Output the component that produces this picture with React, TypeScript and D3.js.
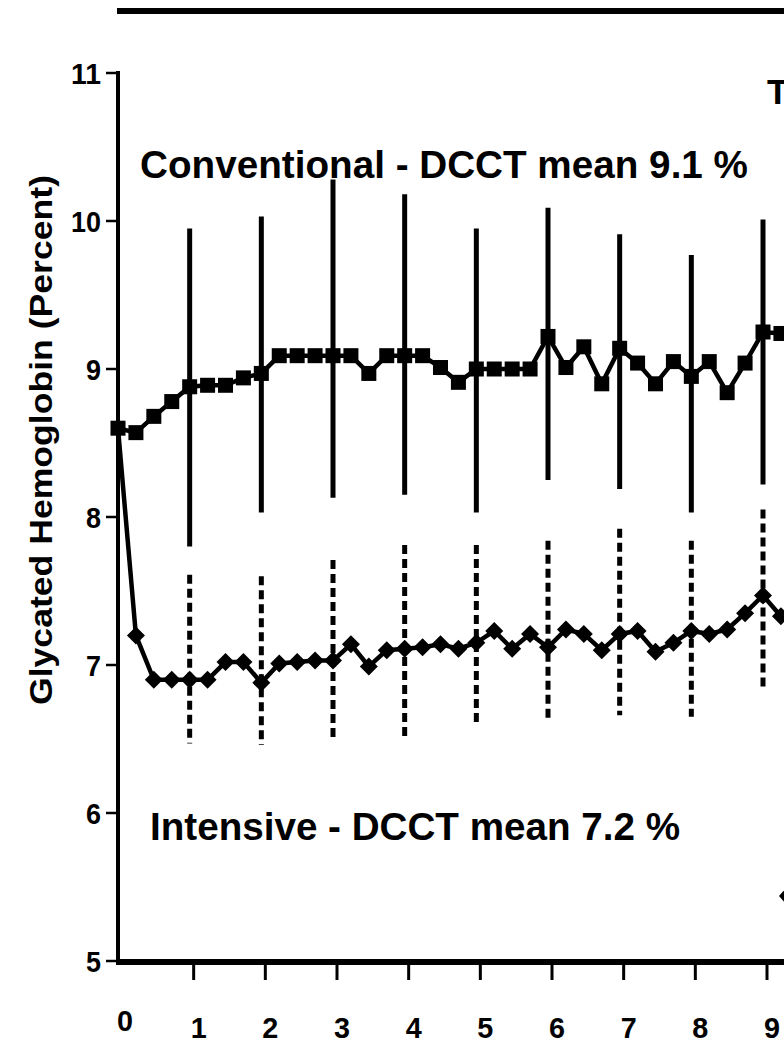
import * as d3 from "d3";

// quarterly visits, years since entry
const years = [
  0, 0.25, 0.5, 0.75, 1, 1.25, 1.5, 1.75, 2, 2.25, 2.5, 2.75, 3, 3.25, 3.5, 3.75, 4, 4.25, 4.5,
  4.75, 5, 5.25, 5.5, 5.75, 6, 6.25, 6.5, 6.75, 7, 7.25, 7.5, 7.75, 8, 8.25, 8.5, 8.75, 9, 9.25,
];
const conventional = [
  8.6, 8.57, 8.68, 8.78, 8.88, 8.89, 8.89, 8.94, 8.97, 9.09, 9.09, 9.09, 9.09, 9.09, 8.97, 9.09,
  9.09, 9.09, 9.01, 8.91, 9.0, 9.0, 9.0, 9.0, 9.22, 9.01, 9.15, 8.9, 9.14, 9.04, 8.9, 9.05, 8.95,
  9.05, 8.84, 9.04, 9.25, 9.24,
];
const intensive = [
  8.6, 7.2, 6.9, 6.9, 6.9, 6.9, 7.02, 7.02, 6.88, 7.01, 7.02, 7.03, 7.03, 7.14, 6.99, 7.1, 7.11,
  7.12, 7.14, 7.11, 7.15, 7.23, 7.11, 7.21, 7.12, 7.24, 7.21, 7.1, 7.21, 7.23, 7.09, 7.15, 7.23,
  7.21, 7.24, 7.35, 7.47, 7.33,
];

// yearly spread bars
const barYears = [1, 2, 3, 4, 5, 6, 7, 8, 9];
const convHigh = [9.95, 10.03, 10.28, 10.18, 9.95, 10.09, 9.91, 9.77, 10.01];
const convLow = [7.8, 8.03, 8.13, 8.15, 8.03, 8.25, 8.19, 8.03, 8.22];
const intHigh = [7.61, 7.6, 7.71, 7.81, 7.81, 7.84, 7.92, 7.84, 8.05];
const intLow = [6.47, 6.46, 6.51, 6.51, 6.61, 6.64, 6.66, 6.65, 6.84];

const yTicks = [5, 6, 7, 8, 9, 10, 11];
const xLabels = ["0", "1", "2", "3", "4", "5", "6", "7", "8", "9"];

const W = 784;
const H = 1047;
const FONT = "'Liberation Sans', Arial, sans-serif";

export default function App() {
  const x = d3.scaleLinear().domain([0, 9]).range([118, 763]);
  const y = d3.scaleLinear().domain([5, 11]).range([961, 73]);

  const line = d3
    .line<number>()
    .x((_, i) => x(years[i]))
    .y((d) => y(d));

  const sq = 7.5;
  const dm = 9;

  return (
    <div style={{ position: "absolute", left: 0, top: 0 }}>
      <svg width={W} height={H} style={{ display: "block", background: "#fff" }}>
        {/* top rule */}
        <line x1={117} x2={W} y1={11} y2={11} stroke="#000" strokeWidth={6} />

        {/* cut-off title letter */}
        <text x={767} y={104} fontFamily={FONT} fontWeight="bold" fontSize={35}>
          T
        </text>

        {/* y axis */}
        <line x1={118} x2={118} y1={y(11) - 2} y2={y(5) + 2} stroke="#000" strokeWidth={4} />
        {yTicks.map((t) => (
          <g key={t}>
            <line x1={106} x2={118} y1={y(t)} y2={y(t)} stroke="#000" strokeWidth={2.5} />
            <text
              x={101}
              y={y(t) + 11}
              textAnchor="end"
              fontFamily={FONT}
              fontWeight="bold"
              fontSize={30}
              textLength={t >= 10 ? 30 : 15}
              lengthAdjust="spacingAndGlyphs"
            >
              {t}
            </text>
          </g>
        ))}
        <text
          transform={`translate(52,${440}) rotate(-90)`}
          textAnchor="middle"
          fontFamily={FONT}
          fontWeight="bold"
          fontSize={32}
          textLength={530}
          lengthAdjust="spacingAndGlyphs"
        >
          Glycated Hemoglobin (Percent)
        </text>

        {/* x axis */}
        <line x1={116} x2={W} y1={962} y2={962} stroke="#000" strokeWidth={6} />
        {barYears.map((t) => (
          <line key={t} x1={x(t) + 4} x2={x(t) + 4} y1={962} y2={980} stroke="#000" strokeWidth={3} />
        ))}
        {xLabels.map((l, i) => (
          <text
            key={l}
            x={x(i) + (i === 0 ? 7 : 9)}
            y={i === 0 ? 1031 : 1038}
            textAnchor="middle"
            fontFamily={FONT}
            fontWeight="bold"
            fontSize={30}
            textLength={16}
            lengthAdjust="spacingAndGlyphs"
          >
            {l}
          </text>
        ))}

        {/* spread bars */}
        {barYears.map((t, i) => (
          <g key={t}>
            <line x1={x(t)} x2={x(t)} y1={y(convHigh[i])} y2={y(convLow[i])} stroke="#000" strokeWidth={5} />
            <line
              x1={x(t)}
              x2={x(t)}
              y1={y(intHigh[i])}
              y2={y(intLow[i])}
              stroke="#000"
              strokeWidth={5}
              strokeDasharray="9,5"
            />
          </g>
        ))}

        {/* series */}
        <path d={line(conventional) ?? ""} fill="none" stroke="#000" strokeWidth={4.5} />
        <path d={line(intensive) ?? ""} fill="none" stroke="#000" strokeWidth={4.5} />
        {conventional.map((v, i) => (
          <rect key={`c${i}`} x={x(years[i]) - sq} y={y(v) - sq} width={sq * 2} height={sq * 2} fill="#000" />
        ))}
        {intensive.map((v, i) =>
          i === 0 ? null : (
            <path
              key={`i${i}`}
              d={`M${x(years[i])},${y(v) - dm}L${x(years[i]) + dm},${y(v)}L${x(years[i])},${y(v) + dm}L${x(years[i]) - dm},${y(v)}Z`}
              fill="#000"
            />
          )
        )}

        {/* cut-off legend glyph */}
        <path d="M786,888L793,896L786,904L779,896Z" fill="#000" />

        {/* annotations */}
        <text
          x={140}
          y={178}
          fontFamily={FONT}
          fontWeight="bold"
          fontSize={39}
          textLength={608}
          lengthAdjust="spacingAndGlyphs"
        >
          Conventional - DCCT mean 9.1 %
        </text>
        <text
          x={150}
          y={840}
          fontFamily={FONT}
          fontWeight="bold"
          fontSize={39}
          textLength={530}
          lengthAdjust="spacingAndGlyphs"
        >
          Intensive - DCCT mean 7.2 %
        </text>
      </svg>
    </div>
  );
}
